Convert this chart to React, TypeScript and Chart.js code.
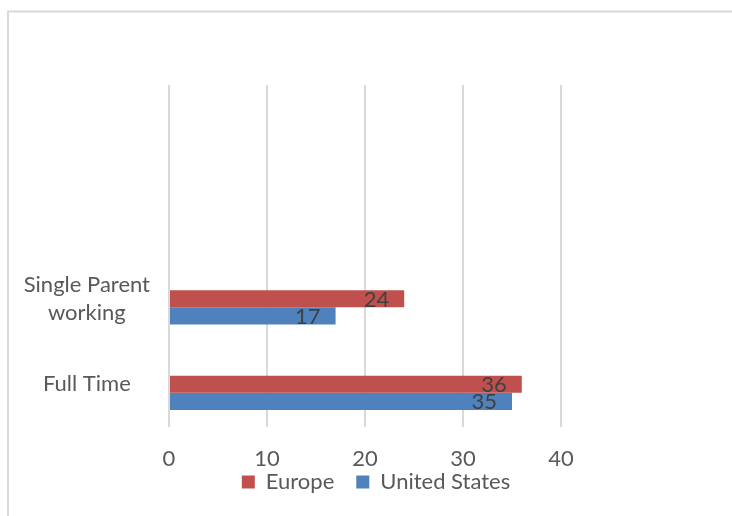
import React, { useEffect, useRef } from "react";
import { Chart, registerables } from "chart.js";

Chart.register(...registerables);

// Categories listed top to bottom (two empty slots above, as in the source chart)
const categories: (string | string[])[] = ["", "", ["Single Parent", "working"], "Full Time"];
const europe: (number | null)[] = [null, null, 24, 36];
const unitedStates: (number | null)[] = [null, null, 17, 35];
const blankSeries: (number | null)[] = [null, null, null, null];
const seriesNames = ["", "Europe", "United States"];
const seriesColors = ["rgba(0,0,0,0)", "#C0504D", "#4F81BD"];
const xMin = 0;
const xMax = 40;
const xStep = 10;

const FONT = "Lato, 'Open Sans', sans-serif";
const TEXT = "#595959";
const FS = 22;

const framePlugin = {
  id: "frame",
  beforeDraw(chart: any) {
    const ctx = chart.ctx;
    ctx.save();
    ctx.fillStyle = "#ffffff";
    ctx.fillRect(0, 0, chart.width, chart.height);
    ctx.strokeStyle = "#d9d9d9";
    ctx.lineWidth = 2;
    ctx.beginPath();
    ctx.moveTo(8, chart.height);
    ctx.lineTo(8, 11.5);
    ctx.lineTo(chart.width, 11.5);
    ctx.stroke();
    ctx.restore();
  },
};

const valueLabelPlugin = {
  id: "valueLabels",
  afterDatasetsDraw(chart: any) {
    const ctx = chart.ctx;
    ctx.save();
    ctx.font = `${FS}px ${FONT}`;
    ctx.fillStyle = "#404040";
    ctx.textAlign = "right";
    ctx.textBaseline = "middle";
    chart.data.datasets.forEach((ds: any, di: number) => {
      const meta = chart.getDatasetMeta(di);
      meta.data.forEach((el: any, i: number) => {
        const v = ds.data[i];
        if (v === null || v === undefined) return;
        ctx.fillText(String(v), el.x - 15, el.y + 1);
      });
    });
    ctx.restore();
  },
};

export default function App() {
  const ref = useRef<HTMLCanvasElement | null>(null);

  useEffect(() => {
    if (!ref.current) return;
    const data = [blankSeries, europe, unitedStates];
    const chart = new Chart(ref.current, {
      type: "bar",
      data: {
        labels: categories,
        datasets: data.map((d, i) => ({
          label: seriesNames[i],
          data: d,
          backgroundColor: seriesColors[i],
          borderWidth: 0,
          categoryPercentage: 0.6,
          barPercentage: 1,
        })),
      },
      options: {
        indexAxis: "y",
        responsive: false,
        animation: false,
        layout: { padding: { top: 85, left: 20, right: 0, bottom: 13 } },
        plugins: {
          tooltip: { enabled: false },
          legend: {
            position: "bottom",
            labels: {
              filter: (item: any) => item.text !== "",
              boxWidth: 13,
              boxHeight: 13,
              padding: 22,
              color: TEXT,
              font: { family: FONT, size: FS },
            },
          },
        },
        scales: {
          x: {
            type: "linear",
            min: xMin,
            max: xMax,
            ticks: {
              stepSize: xStep,
              color: TEXT,
              mirror: true,
              padding: -45,
              font: { family: FONT, size: FS },
            },
            grid: { color: "#d9d9d9", lineWidth: 2, drawTicks: false },
            border: { display: false },
            afterFit: (s: any) => {
              s.height = 22;
            },
          },
          y: {
            type: "category",
            ticks: {
              crossAlign: "center",
              padding: 19,
              color: TEXT,
              font: { family: FONT, size: FS, lineHeight: 1.27 },
            },
            grid: { display: false, drawTicks: false },
            border: { display: false },
            afterFit: (s: any) => {
              s.width = 149;
            },
          },
          yRight: {
            type: "category",
            position: "right",
            display: true,
            ticks: { display: false },
            grid: { display: false, drawTicks: false },
            border: { display: false },
            afterFit: (s: any) => {
              s.width = 171;
            },
          },
        },
      },
      plugins: [framePlugin, valueLabelPlugin],
    } as any);
    return () => chart.destroy();
  }, []);

  return (
    <div style={{ position: "fixed", left: 0, top: 0, width: 732, height: 516, background: "#fff" }}>
      <canvas ref={ref} width={732} height={516} style={{ display: "block" }} />
    </div>
  );
}
